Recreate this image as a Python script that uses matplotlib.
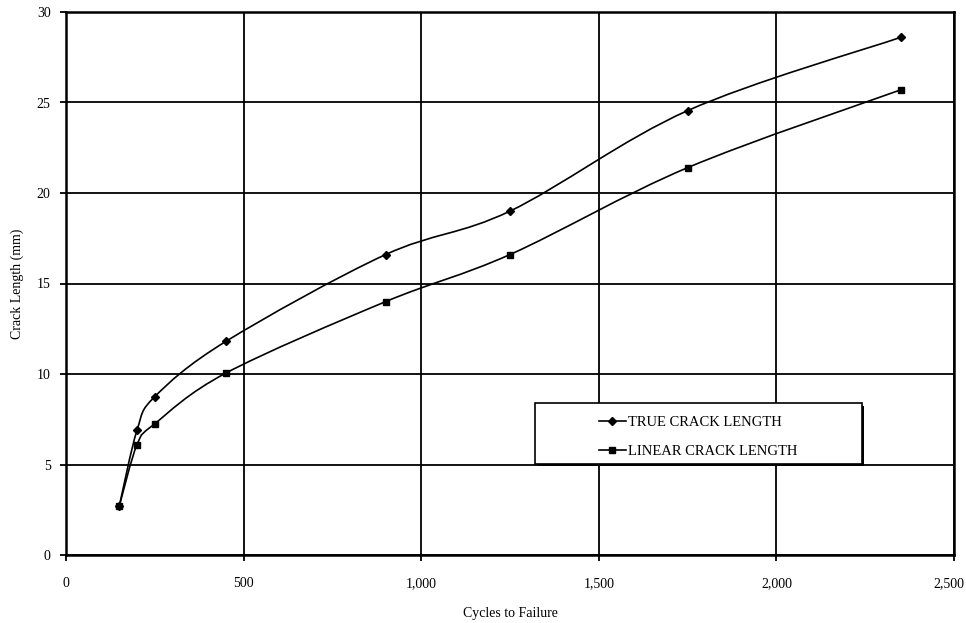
import numpy as np
import matplotlib
matplotlib.use("Agg")
import matplotlib.pyplot as plt
from matplotlib.path import Path
from matplotlib.patches import PathPatch, Rectangle
from matplotlib.lines import Line2D
from matplotlib.ticker import FuncFormatter, MultipleLocator

# crack growth data
cycles = [150, 200, 250, 450, 900, 1250, 1750, 2350]
true_crack = [2.7, 6.9, 8.75, 11.8, 16.6, 19.0, 24.55, 28.6]
linear_crack = [2.7, 6.1, 7.25, 10.05, 14.0, 16.6, 21.4, 25.7]
x_max = 2500

plt.rcParams['font.family'] = ['Liberation Serif', 'DejaVu Serif']


def smooth_path(xs, ys):
    # Catmull-Rom style bezier segments through every point (spreadsheet "smoothed line")
    pts = np.column_stack([xs, ys]).astype(float)
    n = len(pts)
    verts = [pts[0]]
    codes = [Path.MOVETO]
    for i in range(n - 1):
        p_prev = pts[max(i - 1, 0)]
        p0 = pts[i]
        p1 = pts[i + 1]
        p_next = pts[min(i + 2, n - 1)]
        c1 = p0 + (p1 - p_prev) / 6.0
        c2 = p1 - (p_next - p0) / 6.0
        verts += [c1, c2, p1]
        codes += [Path.CURVE4] * 3
    return Path(verts, codes)


fig = plt.figure(figsize=(9.66, 6.23), dpi=100)
ax = fig.add_axes([66 / 966, 1 - 555 / 623, 888 / 966, 543 / 623])

for ys, mk, ms in [(true_crack, 'D', 4.5), (linear_crack, 's', 5)]:
    ax.add_patch(PathPatch(smooth_path(cycles, ys), fill=False, edgecolor='black',
                           lw=1.2, transform=ax.transData, zorder=3))
    ax.plot(cycles, ys, linestyle='none', marker=mk, markersize=ms, color='black', zorder=4)

ax.set_xlim(0, x_max)
ax.set_ylim(0, 30)
ax.xaxis.set_major_locator(MultipleLocator(500))
ax.yaxis.set_major_locator(MultipleLocator(5))
# last x label is drawn separately, nudged left so it stays on the figure
ax.xaxis.set_major_formatter(FuncFormatter(lambda v, p: '' if v >= x_max else f'{v:,.0f}'))
ax.annotate(f'{x_max:,}', xy=(x_max, 0), xycoords='data', xytext=(-4, -16),
            textcoords='offset points', ha='center', va='top', fontsize=10)
ax.grid(True, color='black', lw=1.3)
ax.set_axisbelow(True)
for sp in ax.spines.values():
    sp.set_linewidth(1.8)
ax.tick_params(direction='out', length=4, width=1.3, labelsize=10, pad=12)
ax.tick_params(axis='y', pad=7)

ax.set_xlabel('Cycles to Failure', fontsize=10, labelpad=12)
ax.set_ylabel('Crack Length (mm)', fontsize=10)
ax.yaxis.set_label_coords(-0.047, 0.5)

# legend box with a drop shadow
bx, by, bw, bh = 0.528, 0.168, 0.368, 0.112
ax.add_patch(Rectangle((bx + 0.003, by - 0.005), bw, bh, transform=ax.transAxes,
                       facecolor='black', edgecolor='none', zorder=5))
ax.add_patch(Rectangle((bx, by), bw, bh, transform=ax.transAxes,
                       facecolor='white', edgecolor='black', lw=1.2, zorder=6))
handles = [Line2D([], [], color='black', lw=1.2, marker='D', markersize=4.5),
           Line2D([], [], color='black', lw=1.2, marker='s', markersize=5)]
leg = ax.legend(handles, ['TRUE CRACK LENGTH', 'LINEAR CRACK LENGTH'],
                loc='center left', bbox_to_anchor=(0.585, 0.217), frameon=False,
                fontsize=10.5, labelspacing=1.1, handlelength=1.9, handletextpad=0.1)
leg.set_zorder(7)

fig.savefig('out.png', dpi=100)
